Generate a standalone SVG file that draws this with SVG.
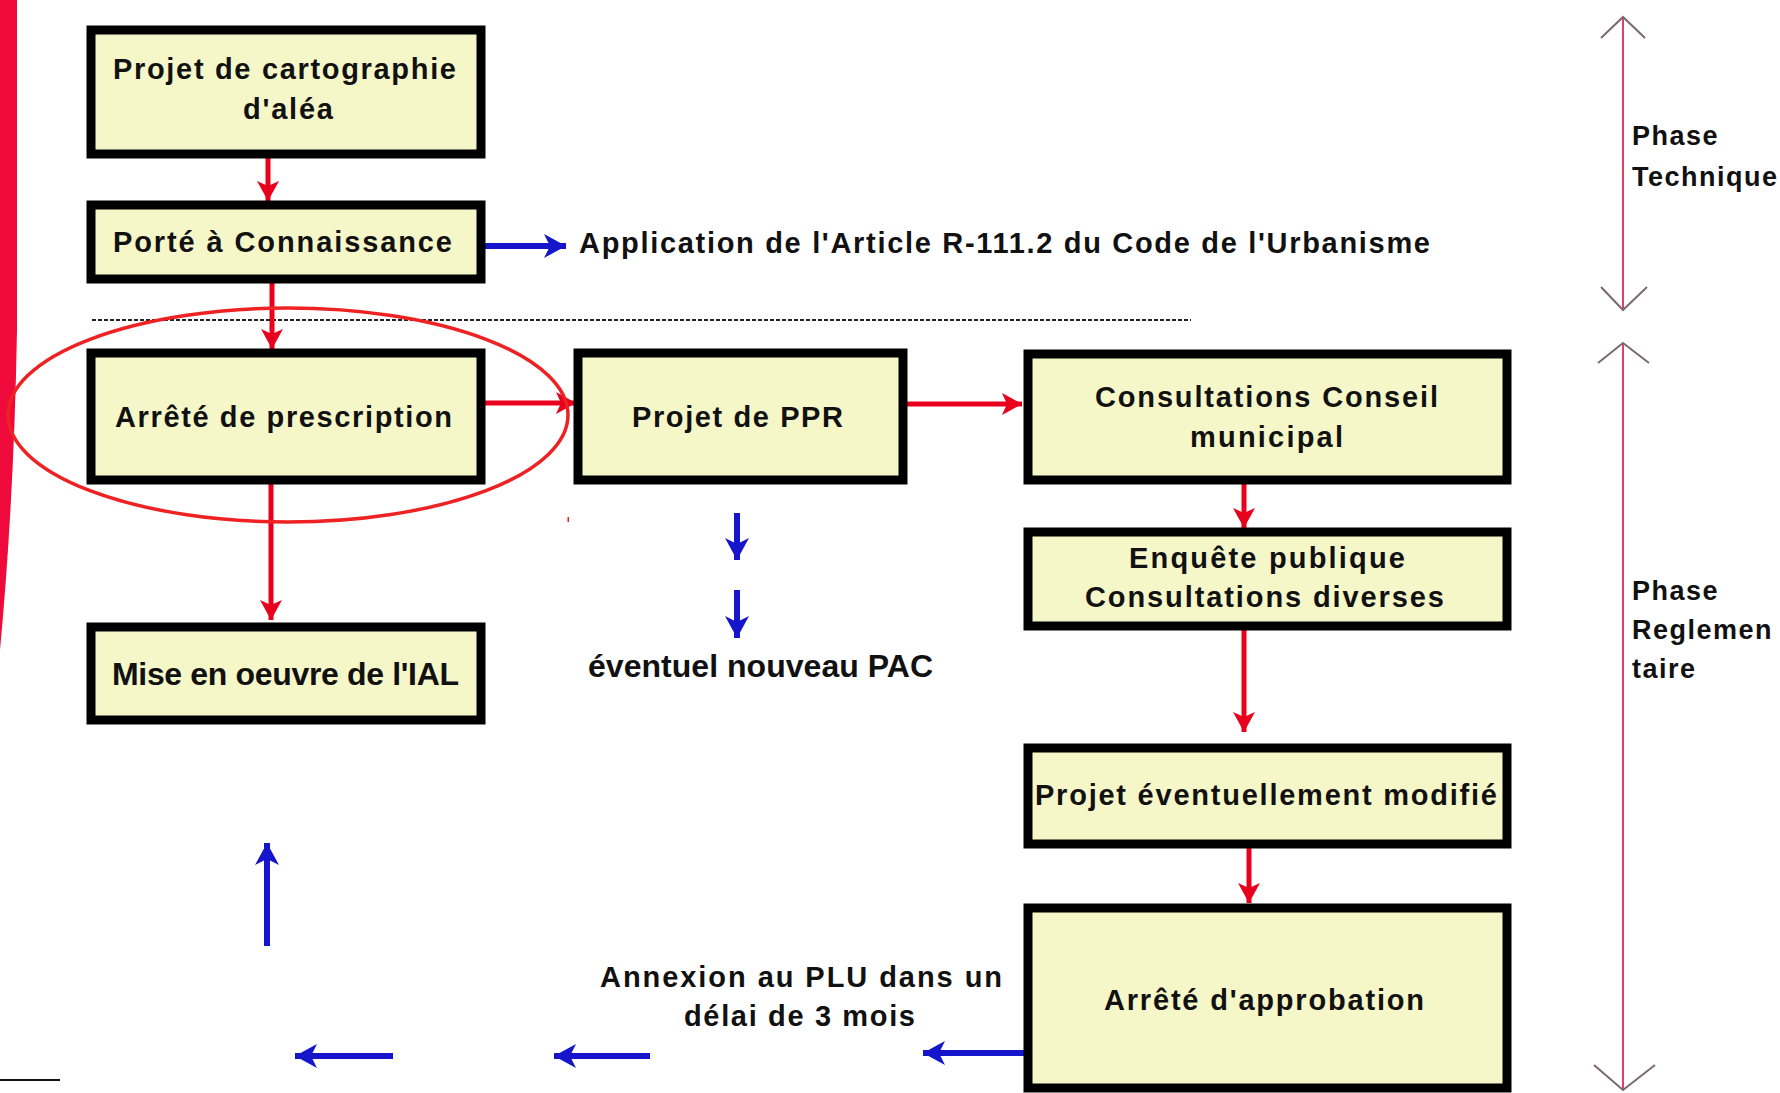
<svg xmlns="http://www.w3.org/2000/svg" width="1780" height="1093" viewBox="0 0 1780 1093">
<style>
.box{fill:#f6f7c8;stroke:#000;stroke-width:9}
.t{font-family:"Liberation Sans",Arial,sans-serif;font-weight:bold;font-size:29px;fill:#111}
.tn{font-family:"Liberation Sans",Arial,sans-serif;font-weight:bold;font-size:32px;fill:#111}
.ph{font-family:"Liberation Sans",Arial,sans-serif;font-weight:bold;font-size:27px;fill:#111;letter-spacing:1.5px}
.red{stroke:#e8001c;stroke-width:5;fill:none;marker-end:url(#ar)}
.blue{stroke:#1515cc;stroke-width:6;fill:none;marker-end:url(#ab)}
.chev{stroke:#7a6a70;stroke-width:2;fill:none}
</style>
<defs>
<marker id="ar" markerUnits="userSpaceOnUse" markerWidth="24" markerHeight="24" refX="20" refY="11" orient="auto">
<path d="M0,0 L20,11 L0,22 L5,11 Z" fill="#e8001c"/>
</marker>
<marker id="ab" markerUnits="userSpaceOnUse" markerWidth="26" markerHeight="26" refX="22" refY="12" orient="auto">
<path d="M0,0 L22,12 L0,24 L6,12 Z" fill="#1515cc"/>
</marker>
</defs>
<rect width="1780" height="1093" fill="#fff"/>
<path d="M0,0 H17 V330 Q14,500 0,650 Z" fill="#ee0a3a"/>
<line x1="0" y1="1080" x2="60" y2="1080" stroke="#111" stroke-width="2"/>
<line x1="92" y1="320" x2="1191" y2="320" stroke="#222" stroke-width="2" stroke-dasharray="4,2"/>

<g id="connectors">
<line class="red" x1="268" y1="158" x2="268" y2="201"/>
<line class="red" x1="272" y1="283" x2="272" y2="349"/>
<line class="red" x1="271" y1="484" x2="271" y2="620"/>
<line class="red" x1="485" y1="403" x2="576" y2="403"/>
<line class="red" x1="907" y1="404" x2="1022" y2="404"/>
<line class="red" x1="1244" y1="484" x2="1244" y2="528"/>
<line class="red" x1="1244" y1="630" x2="1244" y2="732"/>
<line class="red" x1="1249" y1="848" x2="1249" y2="903"/>
<line class="blue" x1="485" y1="246" x2="566" y2="246"/>
<line class="blue" x1="737" y1="513" x2="737" y2="560"/>
<line class="blue" x1="737" y1="590" x2="737" y2="638"/>
<line class="blue" x1="1024" y1="1053" x2="923" y2="1053"/>
<line class="blue" x1="650" y1="1056" x2="554" y2="1056"/>
<line class="blue" x1="393" y1="1056" x2="295" y2="1056"/>
<line class="blue" x1="267" y1="946" x2="267" y2="843"/>
</g>

<g id="n1"><rect class="box" x="91" y="30" width="390" height="124"/>
<text class="t" x="113" y="79" textLength="343">Projet de cartographie</text>
<text class="t" x="243" y="119" textLength="90">d'aléa</text></g>
<g id="n2"><rect class="box" x="91" y="205" width="390" height="74"/>
<text class="t" x="113" y="252" textLength="339">Porté à Connaissance</text></g>
<g id="n3"><rect class="box" x="91" y="353" width="390" height="127"/>
<text class="t" x="115" y="427" textLength="337">Arrêté de prescription</text></g>
<g id="n4"><rect class="box" x="91" y="627" width="390" height="93"/>
<text class="tn" x="112" y="685" textLength="347">Mise en oeuvre de l'IAL</text></g>
<g id="n5"><rect class="box" x="578" y="353" width="325" height="127"/>
<text class="t" x="632" y="427" textLength="211">Projet de PPR</text></g>
<g id="n6"><rect class="box" x="1028" y="354" width="479" height="126"/>
<text class="t" x="1095" y="407" textLength="343">Consultations Conseil</text>
<text class="t" x="1190" y="447" textLength="153">municipal</text></g>
<g id="n7"><rect class="box" x="1028" y="532" width="479" height="94"/>
<text class="t" x="1129" y="568" textLength="276">Enquête publique</text>
<text class="t" x="1085" y="607" textLength="359">Consultations diverses</text></g>
<g id="n8"><rect class="box" x="1028" y="748" width="479" height="96"/>
<text class="t" x="1035" y="805" textLength="462">Projet éventuellement modifié</text></g>
<g id="n9"><rect class="box" x="1028" y="908" width="479" height="180"/>
<text class="t" x="1104" y="1010" textLength="320">Arrêté d'approbation</text></g>

<g id="labels">
<text class="t" x="579" y="253" font-size="27" textLength="851">Application de l'Article R-111.2 du Code de l'Urbanisme</text>
<text class="tn" x="588" y="677" textLength="345">éventuel nouveau PAC</text>
<text class="t" x="600" y="987" textLength="402">Annexion au PLU dans un</text>
<text class="t" x="684" y="1026" textLength="231">délai de 3 mois</text>
</g>

<ellipse cx="288" cy="415" rx="280" ry="107" fill="none" stroke="#ee2222" stroke-width="3.5"/>
<rect x="567.5" y="517" width="1.5" height="5" fill="#ee2222"/>

<g id="phases">
<line x1="1623" y1="17" x2="1623" y2="310" stroke="#e0406a" stroke-width="2"/>
<polyline class="chev" points="1601,38 1623,17 1645,38"/>
<polyline class="chev" points="1601,287 1623,310 1647,287"/>
<line x1="1623" y1="343" x2="1623" y2="1090" stroke="#e0406a" stroke-width="2"/>
<polyline class="chev" points="1598,363 1623,343 1649,363"/>
<polyline class="chev" points="1594,1065 1623,1090 1655,1065"/>
<text class="ph" x="1632" y="145">Phase</text>
<text class="ph" x="1632" y="186">Technique</text>
<text class="ph" x="1632" y="600">Phase</text>
<text class="ph" x="1632" y="639">Reglemen</text>
<text class="ph" x="1632" y="678">taire</text>
</g>
</svg>
